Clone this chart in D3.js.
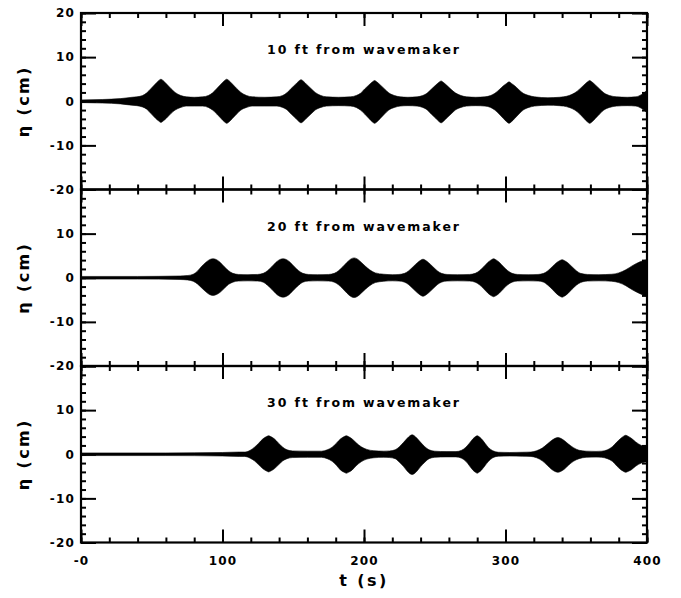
<!DOCTYPE html>
<html>
<head>
<meta charset="utf-8">
<script src="https://cdn.jsdelivr.net/npm/d3@7"></script>
<style>
  html, body { margin: 0; padding: 0; background: #fff; }
  svg { display: block; }
  text { font-family: "DejaVu Sans", "Liberation Sans", sans-serif; font-weight: bold; fill: #000; }
</style>
</head>
<body>
<svg id="chart" width="681" height="598"></svg>
<script>
// Wave-group records: [t (s), upper envelope (cm), lower envelope (cm)]
const panelLabels = ["10 ft from wavemaker", "20 ft from wavemaker", "30 ft from wavemaker"];

const env10 = [
  [0, 0.3, -0.3], [15, 0.4, -0.4], [28, 0.6, -0.6], [36, 0.9, -0.9],
  [39.5, 1.0, -1.0], [43.5, 1.3, -1.3], [46.5, 1.9, -1.8], [49.5, 2.9, -2.8], [52.5, 3.9, -3.8], [55, 4.7, -4.5], [56.5, 5.0, -4.8], [58, 4.7, -4.5], [60.5, 3.9, -3.8], [63.5, 2.9, -2.8], [66.5, 2.0, -2.0], [70.5, 1.3, -1.4], [74.5, 1.0, -1.1],
  [80, 0.9, -1.1],
  [86, 1.0, -1.1], [90, 1.3, -1.4], [93, 1.9, -2.0], [96, 2.9, -2.9], [99, 3.9, -3.9], [101.5, 4.7, -4.7], [103, 5.0, -5.0], [104.5, 4.7, -4.7], [107, 3.9, -3.9], [110, 2.9, -2.9], [113, 2.0, -2.0], [117, 1.3, -1.4], [121, 1.0, -1.1],
  [130, 0.9, -1.1],
  [138.5, 1.0, -1.1], [142.5, 1.3, -1.4], [145.5, 1.9, -1.9], [148.5, 2.9, -2.9], [151.5, 3.8, -3.8], [154, 4.6, -4.6], [155.5, 4.9, -4.9], [157, 4.6, -4.6], [159.5, 3.8, -3.8], [162.5, 2.9, -2.9], [165.5, 2.0, -2.0], [169.5, 1.3, -1.4], [173.5, 1.0, -1.1],
  [182, 0.9, -1.0],
  [190.5, 1.0, -1.1], [194.5, 1.3, -1.4], [197.5, 1.8, -2.0], [200.5, 2.8, -2.9], [203.5, 3.7, -3.9], [206, 4.4, -4.7], [207.5, 4.7, -5.0], [209, 4.4, -4.7], [211.5, 3.7, -3.9], [214.5, 2.8, -2.9], [217.5, 1.9, -2.0], [221.5, 1.3, -1.4], [225.5, 1.0, -1.1],
  [231, 0.9, -1.0],
  [237.5, 1.0, -1.1], [241.5, 1.3, -1.4], [244.5, 1.8, -1.9], [247.5, 2.7, -2.9], [250.5, 3.6, -3.8], [253, 4.3, -4.6], [254.5, 4.6, -4.9], [256, 4.3, -4.6], [258.5, 3.6, -3.8], [261.5, 2.7, -2.9], [264.5, 1.9, -2.0], [268.5, 1.3, -1.4], [272.5, 1.0, -1.1],
  [279, 0.9, -1.0],
  [285.5, 1.0, -1.1], [289.5, 1.3, -1.4], [292.5, 1.8, -2.0], [295.5, 2.6, -2.9], [298.5, 3.5, -3.9], [301, 4.1, -4.7], [302.5, 4.4, -5.0], [304, 4.1, -4.7], [306.5, 3.5, -3.9], [309.5, 2.6, -2.9], [312.5, 1.8, -2.0], [316.5, 1.3, -1.4], [320.5, 1.0, -1.1],
  [330, 0.8, -0.9], [338, 0.9, -1.0],
  [341, 1.0, -1.1], [345, 1.3, -1.4], [349, 1.9, -2.0], [352.5, 2.8, -2.9], [355.5, 3.7, -3.9], [358, 4.4, -4.7], [359.5, 4.7, -5.0], [361, 4.4, -4.7], [363.5, 3.7, -3.9], [366.5, 2.8, -2.9], [369.5, 1.9, -2.0], [373.5, 1.3, -1.4], [378.5, 1.0, -1.1],
  [386, 0.9, -1.0], [392, 1.0, -1.1], [396, 1.5, -1.6], [400, 2.5, -2.6]
];

const env20 = [
  [0, 0.3, -0.3], [40, 0.3, -0.3], [70, 0.4, -0.4],
  [75.3, 0.5, -0.5], [79.3, 0.8, -0.8], [82.3, 1.5, -1.4], [85.3, 2.6, -2.3], [88.3, 3.5, -3.2], [90.8, 4.1, -3.8], [93.3, 4.3, -4.0], [95.8, 4.1, -3.8], [98.3, 3.5, -3.3], [101.3, 2.5, -2.4], [104.3, 1.6, -1.5], [107.3, 1.0, -1.0], [111.3, 0.75, -0.75],
  [118, 0.7, -0.7],
  [124.8, 0.75, -0.75], [128.8, 1.0, -1.0], [131.8, 1.6, -1.7], [134.8, 2.5, -2.6], [137.8, 3.5, -3.6], [140.3, 4.1, -4.2], [142.8, 4.3, -4.4], [145.3, 4.1, -4.2], [147.8, 3.5, -3.6], [150.8, 2.5, -2.6], [153.8, 1.6, -1.7], [156.8, 1.0, -1.0], [160.8, 0.75, -0.75],
  [167, 0.7, -0.7],
  [175, 0.75, -0.75], [179, 1.0, -1.0], [182, 1.6, -1.6], [185, 2.5, -2.5], [188, 3.5, -3.5], [190.5, 4.2, -4.2], [193, 4.5, -4.5], [195.5, 4.2, -4.2], [198, 3.5, -3.5], [201, 2.6, -2.6], [204, 1.8, -1.8], [208, 1.1, -1.1], [214, 0.8, -0.8],
  [220, 0.7, -0.7],
  [224.7, 0.75, -0.75], [228.7, 1.0, -1.0], [231.7, 1.6, -1.6], [234.7, 2.5, -2.5], [237.7, 3.4, -3.4], [240.2, 4.0, -4.0], [241.7, 4.2, -4.2], [243.2, 4.0, -4.0], [245.7, 3.4, -3.4], [248.7, 2.5, -2.5], [251.7, 1.6, -1.6], [254.7, 1.0, -1.0], [258.7, 0.75, -0.75],
  [266, 0.7, -0.7],
  [274.6, 0.75, -0.75], [278.6, 1.0, -1.0], [281.6, 1.6, -1.6], [284.6, 2.5, -2.5], [287.6, 3.5, -3.5], [290.1, 4.1, -4.1], [291.6, 4.3, -4.3], [293.1, 4.1, -4.1], [295.6, 3.5, -3.5], [298.6, 2.5, -2.5], [301.6, 1.6, -1.6], [304.6, 1.0, -1.0], [308.6, 0.75, -0.75],
  [316, 0.7, -0.7],
  [323, 0.75, -0.75], [327, 1.0, -1.0], [330, 1.6, -1.7], [333, 2.5, -2.6], [336, 3.4, -3.6], [338.5, 3.9, -4.2], [340, 4.1, -4.4], [341.5, 3.9, -4.2], [344, 3.4, -3.6], [347, 2.5, -2.6], [350, 1.6, -1.7], [353, 1.0, -1.1], [358, 0.75, -0.75],
  [366, 0.7, -0.7], [375, 0.8, -0.8],
  [380, 1.1, -1.1], [385, 1.8, -1.8], [390, 2.8, -2.8], [395, 3.6, -3.6], [400, 4.1, -4.2]
];

const env30 = [
  [0, 0.3, -0.3], [60, 0.3, -0.3], [100, 0.4, -0.4], [112, 0.5, -0.5],
  [115.6, 0.5, -0.5], [119.6, 0.9, -0.9], [122.6, 1.6, -1.5], [125.6, 2.5, -2.4], [128.6, 3.5, -3.3], [131.1, 4.0, -3.8], [132.6, 4.2, -4.0], [134.1, 4.0, -3.8], [136.6, 3.5, -3.3], [139.6, 2.5, -2.4], [142.6, 1.6, -1.5], [145.6, 1.0, -1.0], [149.6, 0.75, -0.75],
  [160, 0.7, -0.7],
  [170, 0.7, -0.7], [174, 1.0, -1.0], [177.5, 1.6, -1.6], [180.5, 2.5, -2.5], [183.5, 3.5, -3.6], [186, 4.0, -4.1], [187.5, 4.2, -4.3], [189, 4.0, -4.1], [191.5, 3.5, -3.6], [194.5, 2.6, -2.6], [198, 1.7, -1.7], [202, 1.1, -1.1], [207, 0.8, -0.8],
  [214, 0.7, -0.7],
  [218, 0.75, -0.75], [222, 1.0, -1.0], [225, 1.7, -1.8], [228, 2.7, -2.8], [230.5, 3.6, -3.8], [232.5, 4.2, -4.4], [234, 4.4, -4.6], [235.5, 4.2, -4.4], [237.5, 3.6, -3.8], [240, 2.7, -2.8], [243, 1.7, -1.8], [246, 1.0, -1.0], [250, 0.7, -0.7],
  [258, 0.6, -0.6],
  [265, 0.6, -0.6], [269, 0.9, -0.9], [272, 1.6, -1.6], [274.5, 2.5, -2.6], [277, 3.5, -3.6], [278.8, 4.0, -4.1], [280, 4.2, -4.3], [281.2, 4.0, -4.1], [283, 3.5, -3.6], [285.5, 2.5, -2.6], [288, 1.5, -1.6], [291, 0.8, -0.8], [295, 0.45, -0.45],
  [303, 0.4, -0.4], [312, 0.45, -0.45],
  [318, 0.5, -0.5], [322, 0.8, -0.8], [326, 1.4, -1.5], [329.5, 2.3, -2.5], [332.5, 3.1, -3.4], [335, 3.6, -3.9], [337, 3.8, -4.1], [339, 3.6, -3.9], [341.5, 3.1, -3.4], [344.5, 2.3, -2.5], [348, 1.5, -1.6], [352, 0.9, -1.0], [357, 0.7, -0.7],
  [364, 0.65, -0.65],
  [368, 0.7, -0.7], [372, 1.0, -1.0], [375.5, 1.7, -1.6], [378.5, 2.7, -2.6], [381.5, 3.6, -3.5], [383.5, 4.1, -3.9], [385, 4.3, -4.1], [386.5, 4.1, -3.9], [389, 3.6, -3.5], [392, 2.8, -2.7], [396, 2.0, -2.0], [400, 1.7, -1.7]
];

const series = [env10, env20, env30];

// Axis ticks and their labels
const xMajor = [0, 100, 200, 300, 400];
const xTickLabels = ["-0", "100", "200", "300", "400"];
const xMinor = d3.range(0, 401, 20);
const yMajor = [-20, -10, 0, 10, 20];
const yMinor = d3.range(-20, 21, 2);

// Layout
const left = 81, right = 647;
const panelTops = [13, 189.5, 366];
const panelH = 176.5;

const svg = d3.select("#chart");
const x = d3.scaleLinear().domain([0, 400]).range([left, right]);

const labelFont = sel => sel.attr("font-size", 12).attr("letter-spacing", 1.2)
  .attr("font-family", "DejaVu Sans").attr("font-weight", "bold");

series.forEach((data, i) => {
  const top = panelTops[i], bottom = top + panelH;
  const y = d3.scaleLinear().domain([-20, 20]).range([bottom, top]);
  const g = svg.append("g");

  // filled wave envelope
  const area = d3.area()
    .x(d => x(d[0]))
    .y0(d => y(d[2]))
    .y1(d => y(d[1]))
    .curve(d3.curveMonotoneX);
  g.append("path").datum(data).attr("d", area)
    .attr("fill", "#000").attr("stroke", "#000").attr("stroke-width", 0.6);

  // inward ticks on all four sides
  const tickStyle = sel => {
    sel.select(".domain").remove();
    sel.selectAll(".tick line").attr("stroke", "#000").attr("stroke-width", 2);
  };
  g.append("g").attr("transform", `translate(${left},0)`)
    .call(d3.axisLeft(y).tickValues(yMinor).tickSize(-5).tickFormat(""))
    .call(tickStyle);
  const yLabelVals = i === 0 ? yMajor : yMajor.filter(v => v !== 20);
  g.append("g").attr("transform", `translate(${left},0)`)
    .call(d3.axisLeft(y).tickValues(yMajor).tickSize(-15).tickPadding(6)
      .tickFormat(d => yLabelVals.includes(d) ? String(d) : ""))
    .call(tickStyle)
    .call(s => s.selectAll("text").call(labelFont));
  g.append("g").attr("transform", `translate(${right},0)`)
    .call(d3.axisRight(y).tickValues(yMinor).tickSize(-5).tickFormat(""))
    .call(tickStyle);
  g.append("g").attr("transform", `translate(${right},0)`)
    .call(d3.axisRight(y).tickValues(yMajor).tickSize(-15).tickFormat(""))
    .call(tickStyle);

  g.append("g").attr("transform", `translate(0,${top})`)
    .call(d3.axisTop(x).tickValues(xMinor).tickSize(-5).tickFormat(""))
    .call(tickStyle);
  g.append("g").attr("transform", `translate(0,${top})`)
    .call(d3.axisTop(x).tickValues(xMajor).tickSize(-13).tickFormat(""))
    .call(tickStyle);
  g.append("g").attr("transform", `translate(0,${bottom})`)
    .call(d3.axisBottom(x).tickValues(xMinor).tickSize(-5).tickFormat(""))
    .call(tickStyle);
  g.append("g").attr("transform", `translate(0,${bottom})`)
    .call(d3.axisBottom(x).tickValues(xMajor).tickSize(-13).tickPadding(14)
      .tickFormat((d, k) => i === 2 ? xTickLabels[k] : ""))
    .call(tickStyle)
    .call(s => s.selectAll("text").call(labelFont));

  // frame
  g.append("rect")
    .attr("x", left).attr("y", top)
    .attr("width", right - left).attr("height", panelH)
    .attr("fill", "none").attr("stroke", "#000").attr("stroke-width", 2.2);

  // panel label
  g.append("text")
    .attr("x", x(200)).attr("y", y(10.7))
    .attr("text-anchor", "middle")
    .attr("font-size", 12.5)
    .attr("letter-spacing", 1.9)
    .text(panelLabels[i]);

  // y-axis title
  g.append("text")
    .attr("transform", `translate(29,${y(0)}) rotate(-90)`)
    .attr("text-anchor", "middle")
    .attr("font-size", 16)
    .attr("letter-spacing", 2.4)
    .text("η (cm)");
});

// x-axis title
svg.append("text")
  .attr("x", x(200)).attr("y", 586)
  .attr("text-anchor", "middle")
  .attr("font-size", 16)
  .attr("letter-spacing", 2.4)
  .text("t (s)");
</script>
</body>
</html>
